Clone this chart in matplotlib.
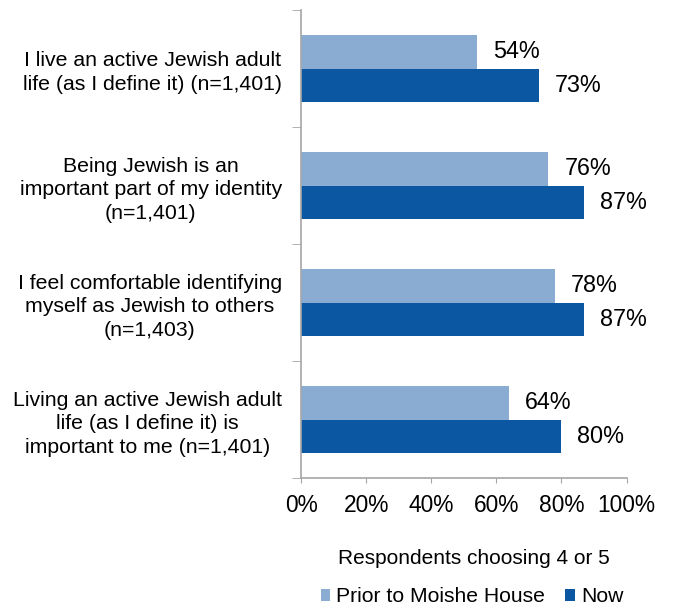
import matplotlib.pyplot as plt
import numpy as np

plt.rcParams['font.family'] = ['Liberation Sans', 'DejaVu Sans']

categories = [
    "I live an active Jewish adult\nlife (as I define it) (n=1,401)",
    "Being Jewish is an\nimportant part of my identity\n(n=1,401)",
    "I feel comfortable identifying\nmyself as Jewish to others\n(n=1,403)",
    "Living an active Jewish adult\nlife (as I define it) is\nimportant to me (n=1,401)",
]
prior = [54, 76, 78, 64]
now = [73, 87, 87, 80]
series_names = ["Prior to Moishe House", "Now"]

light = "#8AACD3"
dark = "#0B57A2"
axis_grey = "#A6A6A6"

fig = plt.figure(figsize=(6.73, 6.08), dpi=100)
ax = fig.add_axes([301 / 673, 1 - 478 / 608, 325.5 / 673, 468 / 608])

y = np.arange(len(categories))
h = 0.29
b1 = ax.barh(y - h / 2, prior, height=h, color=light, label=series_names[0])
b2 = ax.barh(y + h / 2, now, height=h, color=dark, label=series_names[1])

for bars, vals in [(b1, prior), (b2, now)]:
    for bar, v in zip(bars, vals):
        ax.annotate(f"{v}%", (bar.get_width(), bar.get_y() + bar.get_height() / 2),
                    xytext=(11.5, 0), textcoords='offset points',
                    ha='left', va='center', fontsize=16.8, color='black')

ax.set_xlim(0, 100)
ax.set_ylim(len(categories) - 0.5, -0.5)
ax.set_xticks(np.arange(0, 101, 20))
ax.set_xticklabels([f"{t}%" for t in range(0, 101, 20)], fontsize=16.4)
ax.set_yticks(y)
ax.set_yticklabels(categories, fontsize=15.3, linespacing=1.3)
for lab in ax.get_yticklabels():
    lab.set_multialignment('center')
ax.set_yticks(np.arange(-0.5, len(categories), 1.0), minor=True)

ax.tick_params(axis='y', which='major', length=0, pad=13.7)
ax.tick_params(axis='y', which='minor', length=6.5, color=axis_grey, direction='out')
ax.tick_params(axis='x', length=3.5, color=axis_grey, direction='out', pad=8)

for s in ['top', 'right']:
    ax.spines[s].set_visible(False)
for s in ['left', 'bottom']:
    ax.spines[s].set_color(axis_grey)
    ax.spines[s].set_linewidth(1.2)

fig.text(474 / 673, 1 - 558 / 608, "Respondents choosing 4 or 5",
         ha='center', va='center', fontsize=15)

fig.legend(handles=[b1, b2], labels=series_names, loc='center',
           bbox_to_anchor=(472 / 673, 1 - 597 / 608), ncol=2, frameon=False,
           fontsize=15.2, handlelength=0.45, handleheight=0.45,
           handletextpad=0.3, columnspacing=0.95, borderpad=0)

fig.savefig("out.png", dpi=100)
